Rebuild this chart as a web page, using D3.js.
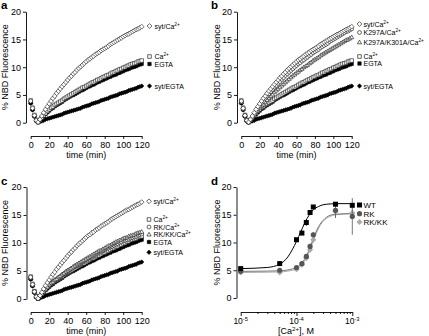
<!DOCTYPE html>
<html><head><meta charset="utf-8">
<script src="https://cdn.jsdelivr.net/npm/d3@7"></script>
<style>
body{margin:0;background:#fff}
svg{display:block}
text{font-family:"Liberation Sans",Arial,Helvetica,sans-serif;fill:#000}
</style>
</head><body>
<svg id="c" width="429" height="336"></svg>
<script>
// ---------- DATA ----------
const times = [0,2,4,6,8,10,12,14,16,18,20,22,24,26,28,30,32,34,36,38,40,42,44,46,48,50,52,54,56,58,60,62,64,66,68,70,72,74,76,78,80,82,84,86,88,90,92,94,96,98,100,102,104,106,108,110,112,114,116,118,120];
const timeTicks = [0,20,40,60,80,100,120];
const fluorTicks = [0,5,10,15,20];

const sytCa = [3.9,2.6,1.3,0.4,0.1,0.6,1.2,1.8,2.4,2.9,
3.4,3.9,4.4,4.8,5.3,5.7,6.1,6.5,6.9,7.3,
7.7,8.1,8.4,8.8,9.1,9.5,9.8,10.1,10.4,10.7,
11.0,11.3,11.5,11.8,12.0,12.3,12.5,12.7,13.0,13.2,
13.4,13.6,13.8,14.1,14.3,14.5,14.7,14.9,15.1,15.3,
15.5,15.7,15.9,16.0,16.2,16.4,16.6,16.8,16.9,17.1,
17.3];
const ca = [4.0,2.7,1.4,0.5,0.1,0.5,0.9,1.3,1.7,2.1,
2.4,2.7,2.9,3.2,3.4,3.6,3.8,4.0,4.3,4.5,
4.7,4.9,5.1,5.3,5.5,5.7,5.9,6.1,6.3,6.4,
6.6,6.8,7.0,7.2,7.3,7.5,7.7,7.8,8.0,8.2,
8.3,8.5,8.6,8.8,9.0,9.1,9.3,9.4,9.6,9.7,
9.9,10.0,10.2,10.3,10.5,10.6,10.7,10.8,11.0,11.1,
11.2];
const egta = [3.6,2.4,1.2,0.4,0.1,0.4,0.8,1.2,1.6,1.9,
2.2,2.5,2.7,3.0,3.2,3.4,3.6,3.8,4.1,4.3,
4.5,4.7,4.9,5.0,5.2,5.4,5.6,5.8,5.9,6.1,
6.3,6.5,6.6,6.8,6.9,7.1,7.3,7.4,7.6,7.7,
7.9,8.0,8.2,8.3,8.5,8.6,8.7,8.9,9.0,9.2,
9.3,9.5,9.6,9.7,9.9,10.0,10.1,10.2,10.4,10.5,
10.6];
const sytEgta = [3.5,2.3,1.1,0.3,0.1,0.2,0.3,0.4,0.6,0.7,
0.8,0.9,1.0,1.1,1.2,1.3,1.4,1.5,1.7,1.8,
1.9,2.0,2.1,2.2,2.3,2.4,2.5,2.6,2.8,2.9,
3.0,3.1,3.2,3.4,3.5,3.6,3.7,3.8,4.0,4.1,
4.2,4.3,4.4,4.6,4.7,4.8,4.9,5.0,5.2,5.3,
5.4,5.5,5.6,5.8,5.9,6.0,6.1,6.2,6.4,6.5,
6.6];
const k297aCa = [3.8,2.5,1.3,0.4,0.1,0.5,1.0,1.5,2.0,2.5,
3.0,3.5,3.9,4.4,4.8,5.2,5.6,6.0,6.4,6.7,
7.1,7.4,7.8,8.1,8.5,8.8,9.1,9.4,9.7,10.0,
10.3,10.6,10.8,11.1,11.3,11.6,11.8,12.1,12.3,12.6,
12.8,13.0,13.2,13.5,13.7,13.9,14.1,14.3,14.6,14.8,
15.0,15.2,15.4,15.6,15.8,16.0,16.2,16.4,16.5,16.7,
16.9];
const k297aK301aCa = [3.7,2.5,1.3,0.4,0.1,0.4,0.9,1.3,1.8,2.2,
2.6,3.0,3.3,3.7,4.1,4.5,4.8,5.1,5.5,5.8,
6.1,6.4,6.7,7.0,7.3,7.6,7.9,8.2,8.5,8.7,
9.0,9.2,9.5,9.7,10.0,10.2,10.4,10.7,10.9,11.2,
11.4,11.6,11.8,12.1,12.3,12.5,12.7,12.9,13.1,13.3,
13.5,13.7,13.9,14.1,14.3,14.5,14.7,14.9,15.0,15.2,
15.4];
const rkCa = [3.8,2.5,1.3,0.4,0.1,0.5,0.9,1.3,1.7,2.1,
2.5,2.8,3.0,3.3,3.5,3.8,4.0,4.3,4.5,4.8,
5.0,5.2,5.4,5.6,5.8,6.0,6.2,6.4,6.6,6.8,
7.0,7.2,7.4,7.5,7.7,7.9,8.1,8.3,8.4,8.6,
8.8,9.0,9.1,9.3,9.4,9.6,9.8,9.9,10.1,10.2,
10.4,10.5,10.6,10.7,10.9,11.0,11.1,11.2,11.4,11.5,
11.6];
const rkkkCa = [3.8,2.5,1.3,0.4,0.1,0.5,0.9,1.3,1.8,2.2,
2.6,2.9,3.1,3.4,3.6,3.9,4.1,4.4,4.6,4.9,
5.1,5.3,5.5,5.8,6.0,6.2,6.4,6.6,6.8,7.0,
7.2,7.4,7.6,7.8,8.0,8.2,8.4,8.6,8.7,8.9,
9.1,9.3,9.5,9.6,9.8,10.0,10.2,10.3,10.5,10.6,
10.8,10.9,11.0,11.2,11.3,11.4,11.5,11.7,11.8,11.9,
12.0];

// panel d: Ca2+ titration
const conc = [1e-5,5e-5,1e-4,1.25e-4,1.5e-4,1.75e-4,2e-4,5e-4,1e-3];
const wt   = [5.3,6.2,10.5,11.7,13.6,15.4,16.4,16.9,16.7];
const wtErr= [0.2,0.2,0.3,0.3,0.6,0.4,0.3,0.3,0.3];
const rk   = [4.8,5.0,5.5,6.2,7.5,9.3,11.4,15.8,14.7];
const rkErr= [0.2,0.2,0.2,0.3,0.4,0.5,0.5,1.4,3.3];
const rkkk = [4.6,4.6,5.2,6.0,7.2,8.7,10.5,15.6,15.3];
const rkkkErr=[0.3,0.3,0.3,0.3,0.4,0.5,0.6,1.0,1.0];
// fitted curves
const fitConc = [1e-5,3e-5,5e-5,7e-5,8.5e-5,1e-4,1.2e-4,1.4e-4,1.7e-4,2e-4,2.5e-4,3e-4,4e-4,5e-4,1e-3];
const wtFit   = [5.3,5.5,6.1,7.4,8.8,10.2,12.0,13.5,15.0,15.9,16.5,16.8,16.95,17.0,17.0];
const rkFit   = [4.8,4.85,4.9,5.05,5.25,5.5,6.1,7.0,8.8,10.7,12.9,14.0,14.9,15.1,15.2];
const rkkkFit = [4.6,4.65,4.7,4.85,5.0,5.2,5.8,6.7,8.4,10.3,12.6,13.8,14.7,15.0,15.2];
const concTicks = [1e-5,1e-4,1e-3];
const concTickExp = ["-5","-4","-3"];

// ---------- DRAWING ----------
const svg = d3.select("#c");
const FS = 9;     // tick labels
const TS = 9;     // axis titles

function rich(sel, str, size) {
  sel.attr("font-size", size);
  const parts = str.split(/(\^\{[^}]*\})/).filter(p => p);
  const sh = size*0.38;
  let raised = false;
  parts.forEach(p => {
    if (p.startsWith("^{")) {
      sel.append("tspan").attr("font-size", size*0.68).attr("dy", -sh).text(p.slice(2,-1));
      raised = true;
    } else {
      const t = sel.append("tspan").attr("font-size", size).text(p);
      if (raised) { t.attr("dy", sh); raised = false; }
    }
  });
  return sel;
}

const shapes = {
  diamond: r => `M0,${-r}L${r},0L0,${r}L${-r},0Z`,
  square: r => `M${-r},${-r}H${r}V${r}H${-r}Z`,
  circle: r => `M${r},0A${r},${r} 0 1,1 ${-r},0A${r},${r} 0 1,1 ${r},0Z`,
  triangle: r => `M0,${-r*1.1}L${r*1.05},${r*0.75}L${-r*1.05},${r*0.75}Z`
};
const styles = {
  sytCa:   {shape:"diamond", r:2.4, fill:"#fff"},
  ca:      {shape:"square", r:1.8, fill:"#fff"},
  egta:    {shape:"square", r:1.7, fill:"#000"},
  sytEgta: {shape:"diamond", r:2.2, fill:"#000"},
  k297aCa: {shape:"circle", r:1.9, fill:"#fff"},
  k297aK301aCa: {shape:"triangle", r:2.0, fill:"#fff"},
  rkCa:    {shape:"circle", r:1.9, fill:"#fff"},
  rkkkCa:  {shape:"triangle", r:2.0, fill:"#fff"}
};
const seriesData = {sytCa, ca, egta, sytEgta, k297aCa, k297aK301aCa, rkCa, rkkkCa};

function styleAxis(g) {
  g.attr("font-family", null).attr("font-size", FS);
  g.selectAll("text").attr("font-size", FS);
  g.selectAll("path,line").attr("stroke", "#000").attr("stroke-width", 0.9);
}

function timePanel(cfg) {
  const x = d3.scaleLinear().domain([0,120]).range([cfg.x0, cfg.x1]);
  const y = d3.scaleLinear().domain([0,20]).range([cfg.yb, cfg.yt]);
  const g = svg.append("g");
  g.append("g").attr("transform", `translate(${cfg.ax},0)`)
    .call(d3.axisLeft(y).tickValues(fluorTicks).tickSize(3).tickSizeOuter(0).tickPadding(2))
    .call(styleAxis);
  g.append("g").attr("transform", `translate(0,${cfg.xay})`)
    .call(d3.axisBottom(x).tickValues(timeTicks).tickSize(3).tickSizeOuter(0).tickPadding(3))
    .call(styleAxis);
  g.append("text").attr("x", (cfg.x0+cfg.x1)/2).attr("y", cfg.xay+22).attr("text-anchor","middle")
    .attr("font-size", TS).text("time (min)");
  g.append("text").attr("transform", `translate(${cfg.ylx},${(cfg.yb+cfg.yt)/2}) rotate(-90)`)
    .attr("text-anchor","middle").attr("font-size", TS).text("% NBD Fluorescence");
  g.append("text").attr("x", cfg.lbx).attr("y", cfg.lby).attr("font-size", 11.5)
    .attr("font-weight","bold").text(cfg.label);
  cfg.order.forEach(k => {
    const st = styles[k], vals = seriesData[k];
    g.append("g").selectAll("path").data(times.map((t,i)=>[t, vals[i]])).join("path")
      .attr("transform", d => `translate(${x(d[0])},${y(d[1])})`)
      .attr("d", shapes[st.shape](st.r))
      .attr("fill", st.fill).attr("stroke", "#000").attr("stroke-width", 0.55);
  });
  cfg.legend.forEach(L => {
    const st = styles[L.key];
    g.append("path").attr("transform", `translate(${cfg.lmx},${L.y})`)
      .attr("d", shapes[st.shape](st.r)).attr("fill", st.fill)
      .attr("stroke","#000").attr("stroke-width",0.6);
    rich(g.append("text").attr("x", cfg.ltx).attr("y", L.y+2.5), L.text, 7);
  });
}

timePanel({label:"a", lbx:1, lby:8.8, x0:30.7, x1:141.7, yb:122.7, yt:11.7, ax:26, xay:136, ylx:8,
  order:["sytEgta","egta","ca","sytCa"], lmx:149.5, ltx:154.5,
  legend:[{key:"sytCa",text:"syt/Ca^{2+}",y:26},{key:"ca",text:"Ca^{2+}",y:56.5},
          {key:"egta",text:"EGTA",y:64},{key:"sytEgta",text:"syt/EGTA",y:86}]});
timePanel({label:"b", lbx:211, lby:8.8, x0:241.3, x1:351.7, yb:122.7, yt:11.7, ax:237, xay:136, ylx:219.5,
  order:["sytEgta","egta","ca","k297aK301aCa","k297aCa","sytCa"], lmx:359.5, ltx:363.5,
  legend:[{key:"sytCa",text:"syt/Ca^{2+}",y:24},{key:"k297aCa",text:"K297A/Ca^{2+}",y:32.5},
          {key:"k297aK301aCa",text:"K297A/K301A/Ca^{2+}",y:42.3},{key:"ca",text:"Ca^{2+}",y:56.5},
          {key:"egta",text:"EGTA",y:63.5},{key:"sytEgta",text:"syt/EGTA",y:86}]});
timePanel({label:"c", lbx:1, lby:185, x0:30.7, x1:141.7, yb:299, yt:187, ax:26.5, xay:312, ylx:8,
  order:["sytEgta","egta","ca","rkCa","rkkkCa","sytCa"], lmx:149, ltx:153.5,
  legend:[{key:"sytCa",text:"syt/Ca^{2+}",y:201.3},{key:"ca",text:"Ca^{2+}",y:219.5},
          {key:"rkCa",text:"RK/Ca^{2+}",y:227},{key:"rkkkCa",text:"RK/KK/Ca^{2+}",y:234.5},
          {key:"egta",text:"EGTA",y:242},{key:"sytEgta",text:"syt/EGTA",y:252.3}]});

// panel d
(function(){
  const x = d3.scaleLog().domain([1e-5,1e-3]).range([240.7,352.3]);
  const y = d3.scaleLinear().domain([0,20]).range([298,187]);
  const g = svg.append("g");
  g.append("g").attr("transform","translate(236.5,0)")
    .call(d3.axisLeft(y).tickValues(fluorTicks).tickSize(3).tickSizeOuter(0).tickPadding(2))
    .call(styleAxis);
  const xa = g.append("g").attr("transform","translate(0,312)")
    .call(d3.axisBottom(x).tickValues(x.ticks()).tickFormat("").tickSize(2).tickSizeOuter(0))
    .call(styleAxis);
  xa.selectAll(".tick line").filter(d => concTicks.some(c => Math.abs(c-d)/c < 1e-6)).attr("y2", 4);
  xa.selectAll(".tick text").remove();
  concTicks.forEach((c,i) => {
    rich(g.append("text").attr("x", x(c)).attr("y", 324).attr("text-anchor","middle"), "10^{"+concTickExp[i]+"}", 8.5);
  });
  rich(g.append("text").attr("x", 296).attr("y", 334).attr("text-anchor","middle"), "[Ca^{2+}], M", TS);
  g.append("text").attr("transform", `translate(219.5,242.5) rotate(-90)`)
    .attr("text-anchor","middle").attr("font-size", TS).text("% NBD Fluorescence");
  g.append("text").attr("x", 211).attr("y", 185).attr("font-size", 11.5).attr("font-weight","bold").text("d");

  const line = d3.line().x((d,i)=>x(fitConc[i])).y(d=>y(d)).curve(d3.curveMonotoneX);
  const sets = [
    {vals:rkkk, err:rkkkErr, fit:rkkkFit, color:"#aaaaaa", line:"#aaaaaa", shape:"diamond", r:3.1, name:"RK/KK", ly:222},
    {vals:rk, err:rkErr, fit:rkFit, color:"#555555", line:"#777777", shape:"circle", r:2.6, name:"RK", ly:213.7},
    {vals:wt, err:wtErr, fit:wtFit, color:"#000000", line:"#000000", shape:"square", r:2.5, name:"WT", ly:205}
  ];
  sets.forEach(s => {
    g.append("path").attr("d", line(s.fit)).attr("fill","none").attr("stroke", s.line).attr("stroke-width", 1);
  });
  sets.forEach(s => {
    g.append("g").selectAll("line").data(conc.map((c,i)=>[c,s.vals[i],s.err[i]])).join("line")
      .attr("x1", d=>x(d[0])).attr("x2", d=>x(d[0]))
      .attr("y1", d=>y(d[1]+d[2])).attr("y2", d=>y(d[1]-d[2]))
      .attr("stroke", s.color).attr("stroke-width", 0.8);
    g.append("g").selectAll("path").data(conc.map((c,i)=>[c,s.vals[i]])).join("path")
      .attr("transform", d=>`translate(${x(d[0])},${y(d[1])})`)
      .attr("d", shapes[s.shape](s.r)).attr("fill", s.color);
  });
  sets.forEach(s => {
    g.append("path").attr("transform", `translate(359.5,${s.ly})`).attr("d", shapes[s.shape](s.r)).attr("fill", s.color);
    g.append("text").attr("x", 363.5).attr("y", s.ly+3).attr("font-size", 8).text(s.name);
  });
})();
</script>
</body></html>
